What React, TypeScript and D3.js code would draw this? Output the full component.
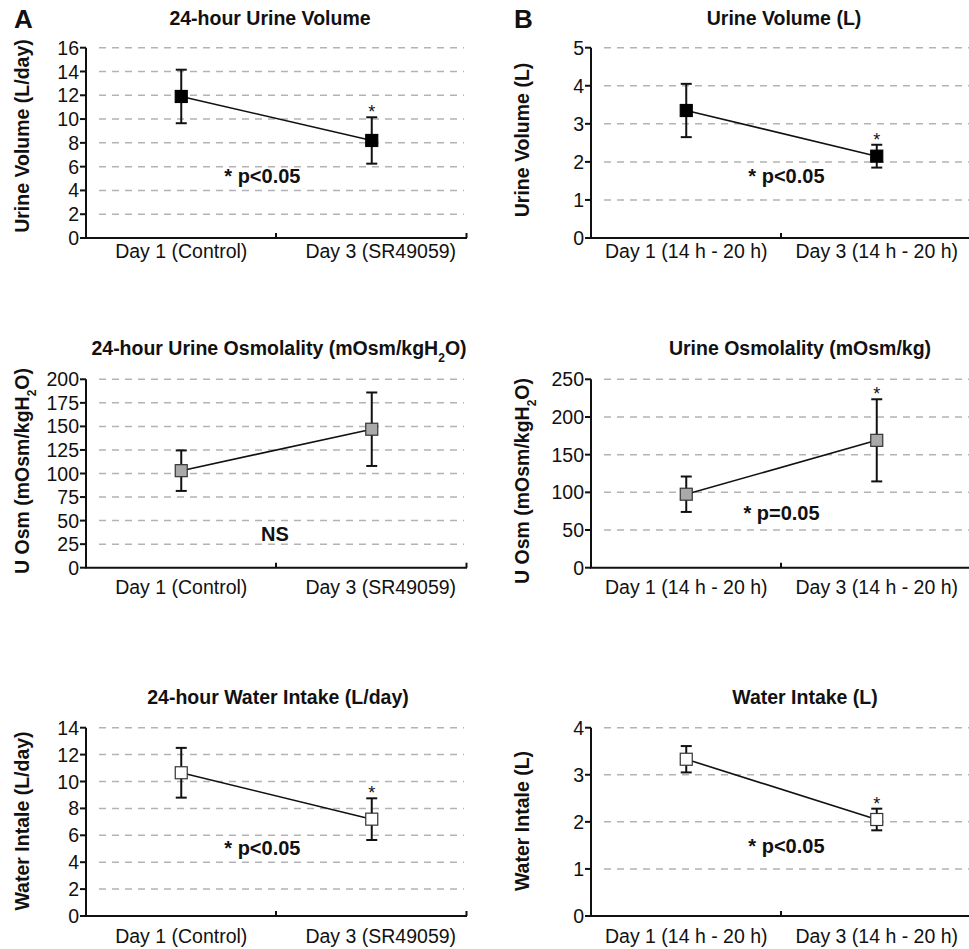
import React from "react";
import * as d3 from "d3";

// ---------- data ----------
const catA = ["Day 1 (Control)", "Day 3 (SR49059)"];
const catB = ["Day 1 (14 h - 20 h)", "Day 3 (14 h - 20 h)"];

const volDayMean = [11.9, 8.2];
const volDayErr = [2.25, 1.95];
const volMean = [3.35, 2.15];
const volErr = [0.7, 0.3];
const osmDayMean = [103, 147];
const osmDayErr = [21.5, 39];
const osmMean = [97.5, 169];
const osmErr = [23.5, 54.5];
const intakeDayMean = [10.65, 7.2];
const intakeDayErr = [1.85, 1.55];
const intakeMean = [3.33, 2.05];
const intakeErr = [0.28, 0.23];

const ticksVolDay = [0, 2, 4, 6, 8, 10, 12, 14, 16];
const ticksVol = [0, 1, 2, 3, 4, 5];
const ticksOsmDay = [0, 25, 50, 75, 100, 125, 150, 175, 200];
const ticksOsm = [0, 50, 100, 150, 200, 250];
const ticksIntakeDay = [0, 2, 4, 6, 8, 10, 12, 14];
const ticksIntake = [0, 1, 2, 3, 4];

const starsVolDay = [false, true];
const starsVol = [false, true];
const starsOsmDay = [false, false];
const starsOsm = [false, true];
const starsIntakeDay = [false, true];
const starsIntake = [false, true];

const FONT = "'Liberation Sans', Arial, Helvetica, sans-serif";

type Panel = {
  title: React.ReactNode;
  yLabel: React.ReactNode;
  cats: string[];
  mean: number[];
  err: number[];
  stars: boolean[];
  ticks: number[];
  note: string;
  fill: string;
  // layout
  left: number;
  top: number;
  bottom: number;
  titleX: number;
  titleY: number;
  yLabelCy: number;
  yLabelX: number;
  xLabelY: number;
  xLabelDx: number[];
  noteFx: number;
  noteV: number;
};

const W = 381;

const sub2 = (
  <tspan baselineShift="sub" fontSize="12">2</tspan>
);

const panels: Panel[] = [
  {
    title: "24-hour Urine Volume",
    yLabel: "Urine Volume (L/day)",
    cats: catA, mean: volDayMean, err: volDayErr, stars: starsVolDay, ticks: ticksVolDay,
    note: "* p<0.05", fill: "#000",
    left: 86, top: 47.7, bottom: 238, titleX: 270, titleY: 25, yLabelCy: 136, yLabelX: 29,
    xLabelY: 258, xLabelDx: [0, 9], noteFx: 0.463, noteV: 4.6,
  },
  {
    title: "Urine Volume (L)",
    yLabel: "Urine Volume (L)",
    cats: catB, mean: volMean, err: volErr, stars: starsVol, ticks: ticksVol,
    note: "* p<0.05", fill: "#000",
    left: 591, top: 47.7, bottom: 238, titleX: 784, titleY: 25, yLabelCy: 140, yLabelX: 529,
    xLabelY: 258, xLabelDx: [0, 0], noteFx: 0.513, noteV: 1.445,
  },
  {
    title: <>24-hour Urine Osmolality (mOsm/kgH{sub2}O)</>,
    yLabel: <>U Osm (mOsm/kgH{sub2}O)</>,
    cats: catA, mean: osmDayMean, err: osmDayErr, stars: starsOsmDay, ticks: ticksOsmDay,
    note: "NS", fill: "#a9a9a9",
    left: 86, top: 379.3, bottom: 567.7, titleX: 279, titleY: 355, yLabelCy: 471, yLabelX: 29,
    xLabelY: 594, xLabelDx: [0, 9], noteFx: 0.496, noteV: 28.4,
  },
  {
    title: "Urine Osmolality (mOsm/kg)",
    yLabel: <>U Osm (mOsm/kgH{sub2}O)</>,
    cats: catB, mean: osmMean, err: osmErr, stars: starsOsm, ticks: ticksOsm,
    note: "* p=0.05", fill: "#a9a9a9",
    left: 591, top: 379.3, bottom: 567.7, titleX: 800, titleY: 355, yLabelCy: 481, yLabelX: 529,
    xLabelY: 594, xLabelDx: [0, 0], noteFx: 0.5, noteV: 63.3,
  },
  {
    title: "24-hour Water Intake (L/day)",
    yLabel: "Water Intale (L/day)",
    cats: catA, mean: intakeDayMean, err: intakeDayErr, stars: starsIntakeDay, ticks: ticksIntakeDay,
    note: "* p<0.05", fill: "#fff",
    left: 86, top: 727.7, bottom: 916, titleX: 278, titleY: 704, yLabelCy: 821, yLabelX: 29,
    xLabelY: 943, xLabelDx: [0, 9], noteFx: 0.463, noteV: 4.54,
  },
  {
    title: "Water Intake (L)",
    yLabel: "Water Intale (L)",
    cats: catB, mean: intakeMean, err: intakeErr, stars: starsIntake, ticks: ticksIntake,
    note: "* p<0.05", fill: "#fff",
    left: 591, top: 727.7, bottom: 916, titleX: 805, titleY: 704, yLabelCy: 821, yLabelX: 529,
    xLabelY: 943, xLabelDx: [0, 0], noteFx: 0.513, noteV: 1.34,
  },
];

function ChartPanel({ p }: { p: Panel }) {
  const right = p.left + W;
  const x = d3.scaleBand<string>().domain(p.cats).range([p.left, right]).padding(0);
  const y = d3
    .scaleLinear()
    .domain([0, p.ticks[p.ticks.length - 1]])
    .range([p.bottom, p.top]);
  const cx = (c: string) => (x(c) as number) + x.bandwidth() / 2;
  const line = d3
    .line<number>()
    .x((_, i) => cx(p.cats[i]))
    .y((v) => y(v));
  const sq = 12;
  const cap = 5.5;
  const stroke = p.fill === "#000" ? "#000" : "#333";
  return (
    <g>
      {/* title */}
      <text x={p.titleX} y={p.titleY} textAnchor="middle" fontWeight="bold" fontSize={19.5}>
        {p.title}
      </text>
      {/* grid */}
      {p.ticks
        .filter((t) => t !== 0)
        .map((t) => (
          <line
            key={"g" + t}
            x1={p.left + 13}
            x2={right - 3}
            y1={y(t)}
            y2={y(t)}
            stroke="#b3b3b3"
            strokeWidth={1.5}
            strokeDasharray="7,6"
          />
        ))}
      {/* y axis */}
      <line x1={p.left} x2={p.left} y1={p.top} y2={p.bottom} stroke="#111" strokeWidth={2} />
      {p.ticks.map((t) => (
        <g key={"t" + t}>
          <line x1={p.left - 6} x2={p.left} y1={y(t)} y2={y(t)} stroke="#111" strokeWidth={2} />
          <text x={p.left - 7} y={y(t)} dy="0.36em" textAnchor="end" fontSize={19.5}>
            {t}
          </text>
        </g>
      ))}
      {/* x axis */}
      <line x1={p.left - 1} x2={right} y1={p.bottom} y2={p.bottom} stroke="#111" strokeWidth={2} />
      {p.cats.map((c) => {
        const xe = (x(c) as number) + x.bandwidth();
        return (
          <line key={"xt" + c} x1={xe - 0.5} x2={xe - 0.5} y1={p.bottom} y2={p.bottom - 5} stroke="#111" strokeWidth={2} />
        );
      })}
      {p.cats.map((c, i) => (
        <text key={"xl" + c} x={cx(c) + p.xLabelDx[i]} y={p.xLabelY} textAnchor="middle" fontSize={19.5}>
          {c}
        </text>
      ))}
      {/* y label */}
      <text
        transform={`translate(${p.yLabelX},${p.yLabelCy}) rotate(-90)`}
        textAnchor="middle"
        fontWeight="bold"
        fontSize={19.5}
      >
        {p.yLabel}
      </text>
      {/* connecting line */}
      <path d={line(p.mean) || ""} fill="none" stroke="#111" strokeWidth={1.6} />
      {/* error bars */}
      {p.mean.map((m, i) => {
        const px = cx(p.cats[i]);
        const hi = y(m + p.err[i]);
        const lo = y(m - p.err[i]);
        return (
          <g key={"e" + i} stroke="#111" strokeWidth={2}>
            <line x1={px} x2={px} y1={hi} y2={lo} />
            <line x1={px - cap} x2={px + cap} y1={hi} y2={hi} />
            <line x1={px - cap} x2={px + cap} y1={lo} y2={lo} />
          </g>
        );
      })}
      {/* markers */}
      {p.mean.map((m, i) => {
        const px = cx(p.cats[i]);
        return (
          <rect
            key={"m" + i}
            x={px - sq / 2}
            y={y(m) - sq / 2}
            width={sq}
            height={sq}
            fill={p.fill}
            stroke={stroke}
            strokeWidth={1.2}
          />
        );
      })}
      {/* stars */}
      {p.mean.map((m, i) =>
        p.stars[i] ? (
          <text
            key={"s" + i}
            x={cx(p.cats[i])}
            y={y(m + p.err[i]) + 1}
            textAnchor="middle"
            fontSize={18}
          >
            *
          </text>
        ) : null
      )}
      {/* note */}
      <text
        x={p.left + W * p.noteFx}
        y={y(p.noteV)}
        textAnchor="middle"
        fontWeight="bold"
        fontSize={20}
      >
        {p.note}
      </text>
    </g>
  );
}

export default function App() {
  return (
    <svg
      width={969}
      height={949}
      style={{ position: "absolute", left: 0, top: 0, background: "#fff" }}
      fontFamily={FONT}
      fill="#111"
    >
      <rect width={969} height={949} fill="#fff" />
      <text x={14} y={28} fontWeight="bold" fontSize={26}>A</text>
      <text x={514} y={28} fontWeight="bold" fontSize={26}>B</text>
      {panels.map((p, i) => (
        <ChartPanel key={i} p={p} />
      ))}
    </svg>
  );
}
